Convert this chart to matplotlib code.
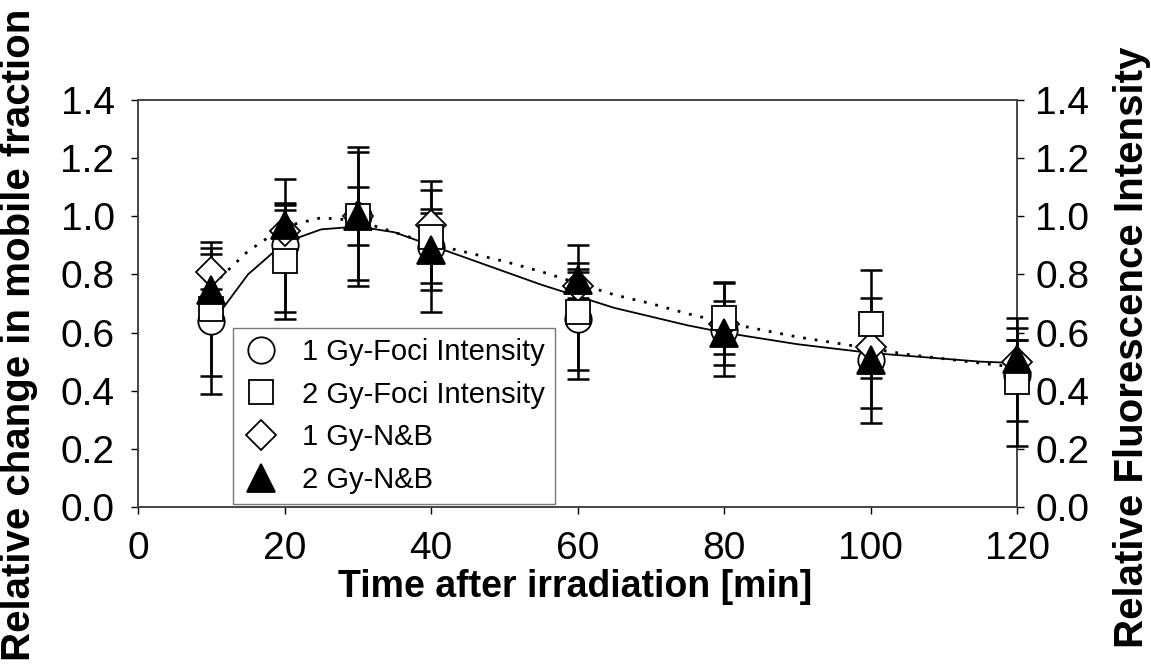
import matplotlib
matplotlib.use("Agg")
from matplotlib import pyplot as plt
from matplotlib.lines import Line2D

plt.rcParams['font.family'] = ['Liberation Sans', 'DejaVu Sans']

# time points [min]
times = [10, 20, 30, 40, 60, 80, 100, 120]

# 1 Gy - foci intensity (circles)
foci_1gy = [0.64, 0.90, 1.00, 0.895, 0.645, 0.61, 0.505, 0.455]
foci_1gy_err = [0.25, 0.23, 0.24, 0.225, 0.175, 0.16, 0.215, 0.16]

# 2 Gy - foci intensity (squares)
foci_2gy = [0.68, 0.845, 1.00, 0.93, 0.67, 0.65, 0.63, 0.43]
foci_2gy_err = [0.23, 0.20, 0.22, 0.16, 0.23, 0.125, 0.185, 0.22]

# 1 Gy - N&B (diamonds)
nb_1gy = [0.81, 0.95, 1.00, 0.97, 0.76, 0.63, 0.55, 0.50]
nb_1gy_err = [0.06, 0.09, 0.10, 0.04, 0.05, 0.05, 0.05, 0.075]

# 2 Gy - N&B (triangles)
nb_2gy = [0.745, 0.97, 1.00, 0.885, 0.78, 0.60, 0.505, 0.51]
nb_2gy_err = [0.05, 0.05, 0.03, 0.14, 0.06, 0.11, 0.165, 0.065]

# fitted curves, every 5 min
fit_t = [10, 15, 20, 25, 30, 35, 40, 45, 50, 55, 60, 65, 70, 75, 80,
         85, 90, 95, 100, 105, 110, 115, 120]
fit_solid = [0.63, 0.80, 0.91, 0.955, 0.965, 0.945, 0.90, 0.855, 0.81, 0.765,
             0.725, 0.685, 0.655, 0.625, 0.60, 0.58, 0.56, 0.545, 0.53, 0.52,
             0.51, 0.50, 0.495]
fit_dotted = [0.76, 0.88, 0.965, 0.995, 0.985, 0.945, 0.905, 0.875, 0.845,
              0.81, 0.77, 0.73, 0.70, 0.665, 0.635, 0.61, 0.585, 0.565, 0.545,
              0.525, 0.51, 0.495, 0.48]

labels = ["1 Gy-Foci Intensity", "2 Gy-Foci Intensity", "1 Gy-N&B", "2 Gy-N&B"]

fig = plt.figure(figsize=(11.51, 6.65), dpi=100)
ax = fig.add_axes([0.12, 0.2376, 0.7636, 0.612])

ax.plot(fit_t, fit_solid, color="black", lw=1.3, zorder=2)
ax.plot(fit_t, fit_dotted, color="black", lw=2.0, ls=(0, (1, 3.2)), zorder=2)

series = [
    (foci_1gy, foci_1gy_err, "o", 19, "white"),
    (nb_1gy, nb_1gy_err, "D", 15, "white"),
    (foci_2gy, foci_2gy_err, "s", 17, "white"),
    (nb_2gy, nb_2gy_err, "^", 20, "black"),
]
for vals, errs, mk, ms, fc in series:
    eb = ax.errorbar(times, vals, yerr=errs, fmt="none", ecolor="black",
                     elinewidth=1.8, capsize=8, capthick=1.8, zorder=3)
    for art in eb.get_children():
        art.set_clip_on(False)
for i, (vals, errs, mk, ms, fc) in enumerate(series):
    ax.plot(times, vals, ls="none", marker=mk, ms=ms, mfc=fc, mec="black",
            mew=1.3, zorder=4 + i, clip_on=False)

ax.set_xlim(0, 120)
ax.set_ylim(0, 1.4)
ax.set_xticks(range(0, 121, 20))
ax.set_yticks([0.0, 0.2, 0.4, 0.6, 0.8, 1.0, 1.2, 1.4])
ax.set_yticklabels(["%.1f" % v for v in ax.get_yticks()])
ax.tick_params(direction="out", length=5, width=1, labelsize=28, pad=12)

ax2 = ax.twinx()
ax2.set_ylim(0, 1.4)
ax2.set_yticks([0.0, 0.2, 0.4, 0.6, 0.8, 1.0, 1.2, 1.4])
ax2.set_yticklabels(["%.1f" % v for v in ax2.get_yticks()])
ax2.tick_params(direction="out", length=5, width=1, labelsize=28, pad=8)
ax2.set_zorder(ax.get_zorder() - 1)
ax.patch.set_visible(False)

for a in (ax, ax2):
    for sp in a.spines.values():
        sp.set_color("#444444")
        sp.set_linewidth(1.2)

ax.set_xlabel("Time after irradiation [min]", fontsize=27, fontweight="bold")
ax.xaxis.set_label_coords(0.497, -0.152)
ax.set_ylabel("Relative change in mobile fraction", fontsize=29,
              fontweight="bold")
ax.yaxis.set_label_coords(-0.1138, 0.4226)
ax2.set_ylabel("Relative Fluorescence Intensity", fontsize=29,
               fontweight="bold", rotation=90)
ax2.yaxis.set_label_coords(1.109, 0.393)

handles = [
    Line2D([], [], ls="none", marker="o", ms=19, mfc="white", mec="black", mew=1.3),
    Line2D([], [], ls="none", marker="s", ms=17, mfc="white", mec="black", mew=1.3),
    Line2D([], [], ls="none", marker="D", ms=15, mfc="white", mec="black", mew=1.3),
    Line2D([], [], ls="none", marker="^", ms=20, mfc="black", mec="black", mew=1.3),
]
leg = ax.legend(handles, labels, loc="lower left", bbox_to_anchor=(0.108, 0.0074),
                borderaxespad=0, fontsize=21, frameon=True, fancybox=False,
                edgecolor="#777777", framealpha=1, handlelength=1.2,
                handletextpad=0.8, labelspacing=0.5, borderpad=0.35)
leg.get_frame().set_linewidth(1.0)
leg.set_zorder(10)

fig.savefig("out.png", dpi=100)
